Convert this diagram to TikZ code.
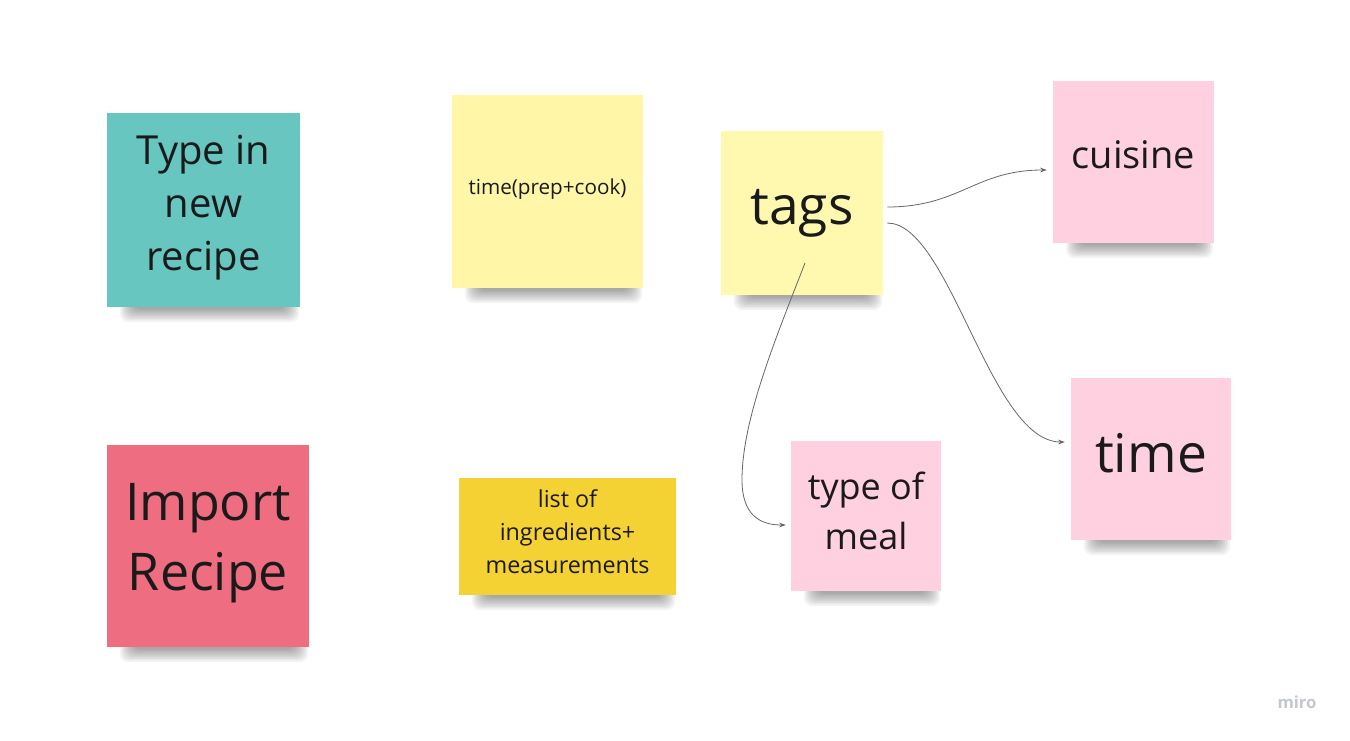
\documentclass[tikz,border=0pt]{standalone}
\usepackage{fontspec}
\setmainfont{Open Sans}
\usetikzlibrary{calc,arrows.meta}
\pgfdeclarelayer{bg0}
\pgfdeclarelayer{background}
\pgfsetlayers{bg0,background,main}
\definecolor{teal1}{HTML}{67C6C0}
\definecolor{red1}{HTML}{EE6D80}
\definecolor{ylight}{HTML}{FFF6A8}
\definecolor{ytags}{HTML}{FFF9B0}
\definecolor{ydark}{HTML}{F5D234}
\definecolor{pink1}{HTML}{FFD0E0}
\definecolor{txt}{HTML}{1A1A1A}
\definecolor{conn}{HTML}{666666}
\definecolor{mirogray}{HTML}{C4C7CF}
\tikzset{
  note/.style={rectangle, inner sep=0pt, align=center, text=txt},
  notetext/.style={inner sep=0pt, align=center, text=txt},
  shlayer/.style={fill=black, fill opacity=0.045, rounded corners=6pt},
  link/.style={draw=conn, line width=0.6pt, -{Stealth[length=5pt,width=3.5pt]}}
}
\begin{document}
\begin{tikzpicture}[x=0.75pt,y=-0.75pt]
\begin{pgfonlayer}{bg0}
\fill[white] (0,0) rectangle (1350,740);
\end{pgfonlayer}
\useasboundingbox (0,0) rectangle (1350,740);

\node[note, fill=teal1, minimum width=144.75pt, minimum height=145.5pt,
      label={[notetext, yshift=2pt, font=\fontsize{30}{39.75}\selectfont]center:Type in\\new\\recipe}] (typein) at (203.5,210) {};
\node[note, fill=red1, minimum width=151.5pt, minimum height=151.5pt,
      label={[notetext, yshift=2.2pt, font=\fontsize{39}{52.5}\selectfont]center:Import\\Recipe}] (import) at (208,546) {};
\node[note, fill=ylight, minimum width=143.25pt, minimum height=144.75pt,
      label={[notetext, yshift=1.5pt, font=\fontsize{15.5}{19}\selectfont]center:time(prep+cook)}] (timeprep) at (547.5,191.5) {};
\node[note, fill=ydark, minimum width=162.75pt, minimum height=87.75pt,
      label={[notetext, yshift=3.7pt, font=\fontsize{17.5}{25}\selectfont]center:list of\\ingredients+\\measurements}] (list) at (567.5,536.5) {};
\node[note, fill=ytags, minimum width=121.5pt, minimum height=123pt,
      label={[notetext, yshift=0pt, font=\fontsize{40}{50}\selectfont]center:tags}] (tags) at (802,213) {};
\node[note, fill=pink1, minimum width=120.75pt, minimum height=121.5pt,
      label={[notetext, yshift=5.2pt, font=\fontsize{28.5}{36}\selectfont]center:cuisine}] (cuisine) at (1133.5,162) {};
\node[note, fill=pink1, minimum width=120pt, minimum height=121.5pt,
      label={[notetext, yshift=4.5pt, font=\fontsize{40}{50}\selectfont]center:time}] (time) at (1151,459) {};
\node[note, fill=pink1, minimum width=112.5pt, minimum height=112.5pt,
      label={[notetext, yshift=3.7pt, font=\fontsize{27}{37.5}\selectfont]center:type of\\meal}] (meal) at (866,516) {};

\begin{pgfonlayer}{background}
\foreach \n in {typein,import,timeprep,list,tags,cuisine,time,meal}{
  \foreach \k in {0,...,8}{
    \fill[shlayer] ($(\n.south west)+(26-1.6*\k,-20)$) rectangle ($(\n.south east)+(-14+1.6*\k,2+1.6*\k)$);
  }
}
\end{pgfonlayer}

\draw[link] ($(tags.east)+(4,-6)$) .. controls (960,207) and (975,170) .. ($(cuisine.west)+(-6,8)$);
\draw[link] ($(tags.east)+(4,10)$) .. controls (950,223) and (990,442) .. ($(time.west)+(-6,-17)$);
\draw[link] ($(tags.center)+(3,50)$) .. controls (775,340) and (742,420) .. (742,480)
   .. controls (742,515) and (760,525) .. ($(meal.west)+(-5,9)$);

\node[text=mirogray, font=\fontsize{12.5}{15}\selectfont\bfseries] (miro) at (1297,702) {miro};
\end{tikzpicture}
\end{document}
